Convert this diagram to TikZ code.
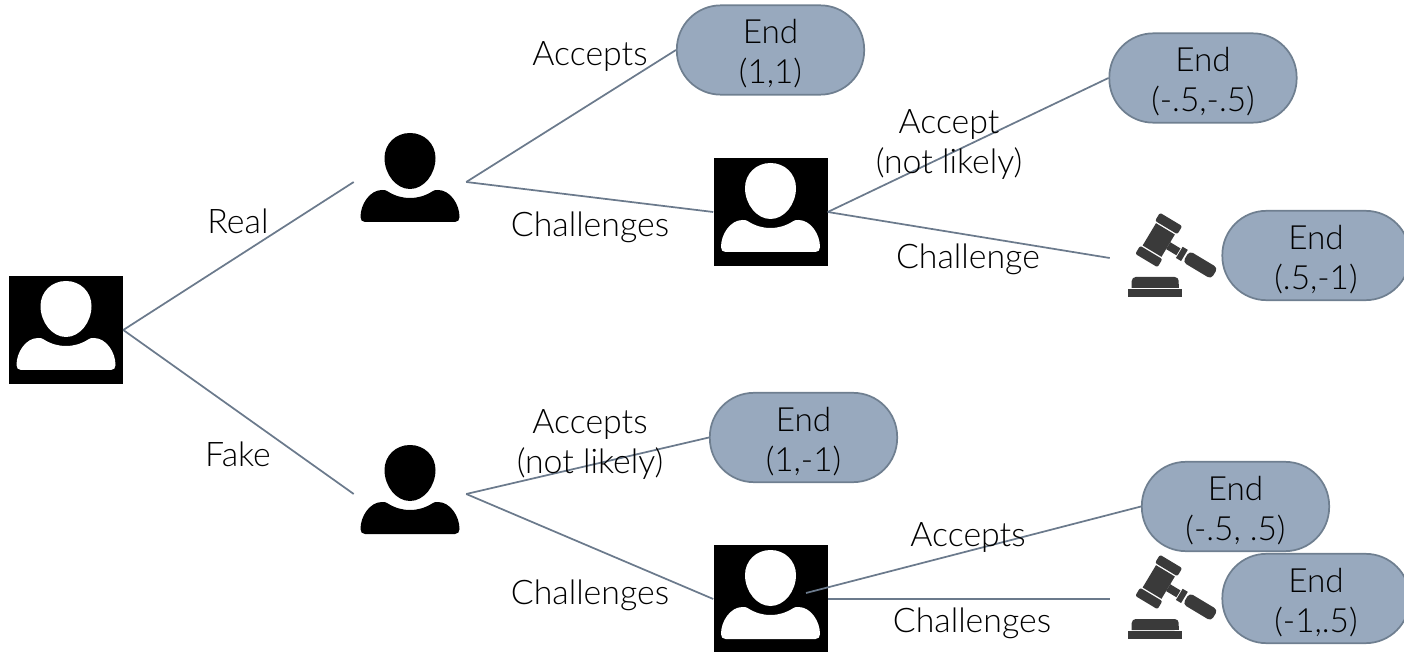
\documentclass[tikz,border=0pt]{standalone}
\usepackage{fontspec}
\setmainfont{Lato Light}
\definecolor{edgeC}{HTML}{6B7A8C}
\definecolor{endFill}{HTML}{98A9BE}
\definecolor{endLine}{HTML}{6F7F90}
\definecolor{gavelC}{HTML}{3A3A3A}
\newcommand{\finaltext}[2]{\vbox{\vskip 6pt\hbox to 120pt{\hfil #1\hfil}\hbox to 120pt{\hfil #2\hfil}}}
\tikzset{
  txt/.style={font=\fontsize{25.4pt}{30pt}\selectfont,text=black,align=center,inner sep=0pt},
  endbox/.style={draw=endLine,line width=1.3pt,fill=endFill,rounded corners=33pt,minimum width=140.5pt,minimum height=67pt,inner sep=0pt,font=\fontsize{25pt}{30pt}\selectfont},
  link/.style={draw=edgeC,line width=1.3pt},
  blackbox/.style={fill=black,draw=none,minimum width=85.5pt,minimum height=81pt,inner sep=0pt},
  plainbox/.style={draw=none,minimum width=84pt,minimum height=82pt,inner sep=0pt},
  gavelbox/.style={draw=none,minimum width=84pt,minimum height=66pt,inner sep=0pt},
  personshape/.pic={
    \path[pic actions] (0,-49) .. controls (14.5,-49) and (25.5,-38) .. (25.5,-24)
      .. controls (25.5,-8) and (14,7) .. (0,7)
      .. controls (-14,7) and (-25.5,-8) .. (-25.5,-24)
      .. controls (-25.5,-38) and (-14.5,-49) .. (0,-49) -- cycle;
    \path[pic actions] (-45,40) .. controls (-48,40) and (-49.5,38) .. (-49.5,35)
      .. controls (-49.5,22) and (-40,8) .. (-28,8)
      .. controls (-26,8) and (-24,8) .. (-23,9)
      .. controls (-15,14) and (-8,16) .. (0,16)
      .. controls (8,16) and (15,14) .. (23,9)
      .. controls (24,8) and (26,8) .. (28,8)
      .. controls (40,8) and (49.5,22) .. (49.5,35)
      .. controls (49.5,38) and (48,40) .. (45,40) -- cycle;
  },
  gavelshape/.pic={
    \begin{scope}[shift={(49,-18)},rotate=-31]
      \fill[gavelC] (-11,-13) rectangle (11,13);
      \fill[gavelC,rounded corners=1.5pt] (-13,-24) rectangle (13,-14.5);
      \fill[gavelC,rounded corners=1.5pt] (-13,14.5) rectangle (13,24);
      \fill[gavelC] (11,-4) rectangle (23,4);
      \fill[gavelC] (24,-6.5) rectangle (30,6.5);
      \fill[gavelC,rounded corners=3pt] (32,-6.5) rectangle (65,6.5);
    \end{scope}
    \fill[gavelC,rounded corners=3pt] (22,30) -- (22,19) -- (69,19) -- (69,30) [sharp corners] -- cycle;
    \fill[gavelC] (22,26) rectangle (69,30);
    \fill[gavelC] (18,31) rectangle (72,39);
  }
}
\begin{document}
\begin{tikzpicture}[x=0.75pt,y=-0.75pt]
\useasboundingbox (0,0) rectangle (1404,652);
\node[blackbox] (p1) at (66,330) {};
\node[plainbox] (p2) at (410,182) {};
\node[blackbox] (p3) at (770.5,212) {};
\node[plainbox] (p4) at (410,494) {};
\node[blackbox] (p5) at (770.5,599) {};
\pic[fill=white] at (p1.center) {personshape};
\pic[fill=black] at (p2.center) {personshape};
\pic[fill=white] at (p3.center) {personshape};
\pic[fill=black] at (p4.center) {personshape};
\pic[fill=white] at (p5.center) {personshape};
\node[gavelbox] (g1) at (1166,258) {};
\node[gavelbox] (g2) at (1166,599) {};
\pic at (g1.west) {gavelshape};
\pic at ([yshift=-0.75pt]g2.west) {gavelshape};
\node[endbox] (e1) at (770.5,50) {\finaltext{End}{(1,1)}};
\node[endbox] (e2) at (1203,78) {\finaltext{End}{(-.5,-.5)}};
\node[endbox] (e3) at (1316,255.5) {\finaltext{End}{(.5,-1)}};
\node[endbox] (e4) at (803.5,437.5) {\finaltext{End}{(1,-1)}};
\node[endbox] (e5) at (1235.5,506.5) {\finaltext{End}{(-.5, .5)}};
\node[endbox] (e6) at (1316,598.5) {\finaltext{End}{(-1,.5)}};
\coordinate (p5s) at (806,593);
\draw[link] (p1.east) -- (p2.west);
\draw[link] (p1.east) -- (p4.west);
\draw[link] (p2.east) -- (e1.west);
\draw[link] (p2.east) -- (p3.west);
\draw[link] (p3.east) -- (e2.west);
\draw[link] (p3.east) -- (g1.west);
\draw[link] (p4.east) -- (e4.west);
\draw[link] (p4.east) -- (p5.west);
\draw[link] (p5s) -- (e5.west);
\draw[link] (p5.east) -- (g2.west);
\node[txt] (t1) at (238,221) {Real};
\node[txt] (t2) at (238,454) {Fake};
\node[txt] (t3) at (590,57) {Accepts};
\node[txt] (t4) at (590,227) {Challenges};
\node[txt] (t5) at (949,144.5) {Accept\\(not likely)};
\node[txt] (t6) at (968,259) {Challenge};
\node[txt] (t7) at (590,445) {Accepts\\(not likely)};
\node[txt] (t8) at (590,595) {Challenges};
\node[txt] (t9) at (968,537) {Accepts};
\node[txt] (t10) at (972,623) {Challenges};
\end{tikzpicture}
\end{document}
